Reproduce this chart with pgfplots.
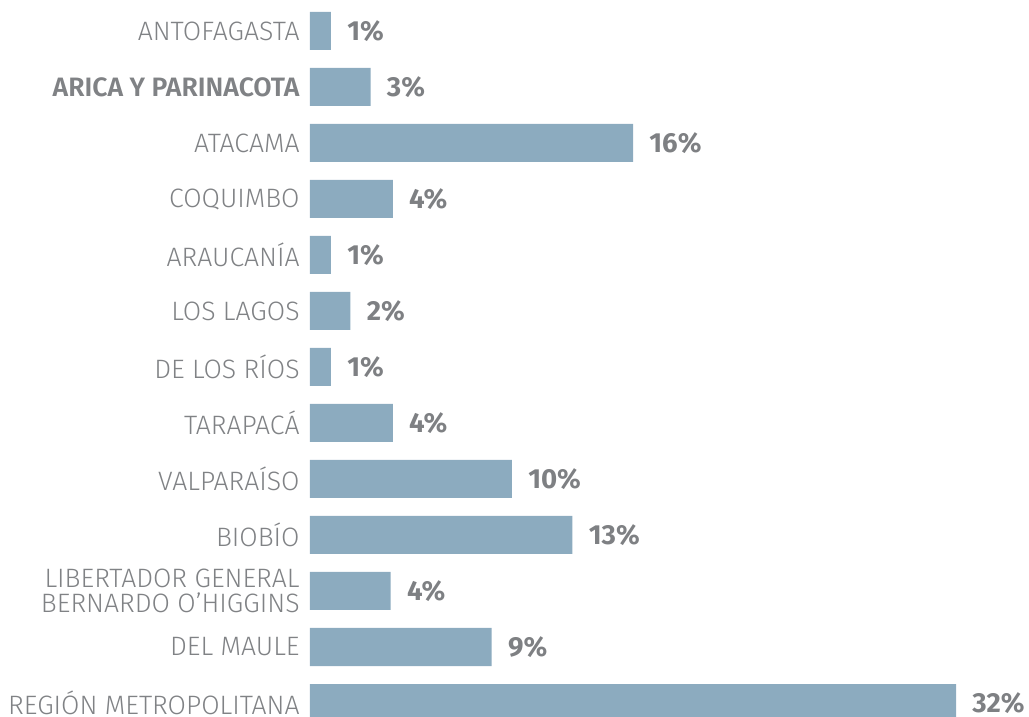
\documentclass[border=0pt]{standalone}
\usepackage{fontspec}
\setmainfont{Fira Sans}[UprightFont={* Light}, BoldFont={* SemiBold}]
\newfontfamily\valfont{Fira Sans Bold}
\usepackage{pgfplots}
\pgfplotsset{compat=1.18}
\definecolor{barc}{HTML}{8CABBF}
\definecolor{labc}{HTML}{808285}
\definecolor{valc}{HTML}{7E8083}
\begin{document}
\begin{tikzpicture}
\begin{axis}[
  scale only axis,
  width=353.3pt, height=364pt,
  xmin=0, xmax=35,
  ymin=-0.5, ymax=12.5,
  y dir=reverse,
  xbar, bar width=19pt, bar shift=0pt,
  axis line style={draw=none},
  xtick=\empty,
  ytick={0,...,12},
  major tick length=0pt,
  yticklabels={ANTOFAGASTA,\textbf{ARICA Y PARINACOTA},ATACAMA,COQUIMBO,ARAUCANÍA,LOS LAGOS,DE LOS RÍOS,TARAPACÁ,VALPARAÍSO,BIOBÍO,{LIBERTADOR GENERAL\\BERNARDO O’HIGGINS},DEL MAULE,REGIÓN METROPOLITANA},
  yticklabel style={anchor=east, inner sep=0pt, xshift=-5pt, align=right, text=labc, font=\fontsize{13.3}{12.5}\selectfont},
  point meta=explicit symbolic,
  nodes near coords,
  every node near coord/.append style={anchor=west, inner sep=0pt, xshift=8pt, text=valc, font=\fontsize{13.8}{13.8}\valfont},
  clip=false,
]
\addplot[fill=barc, draw=none] coordinates {
  (1.04,0) [1\%]
  (3.0,1) [3\%]
  (16.0,2) [16\%]
  (4.1,3) [4\%]
  (1.04,4) [1\%]
  (2.0,5) [2\%]
  (1.04,6) [1\%]
  (4.1,7) [4\%]
  (10.0,8) [10\%]
  (13.0,9) [13\%]
  (4.0,10) [4\%]
  (9.0,11) [9\%]
  (32.0,12) [32\%]
};
\coordinate (tl) at (axis cs:0,-0.5);
\end{axis}
\pgfresetboundingbox
\path[use as bounding box] ([shift={(-155pt,1.5pt)}]tl) rectangle ([shift={(359.5pt,-357pt)}]tl);
\end{tikzpicture}
\end{document}
